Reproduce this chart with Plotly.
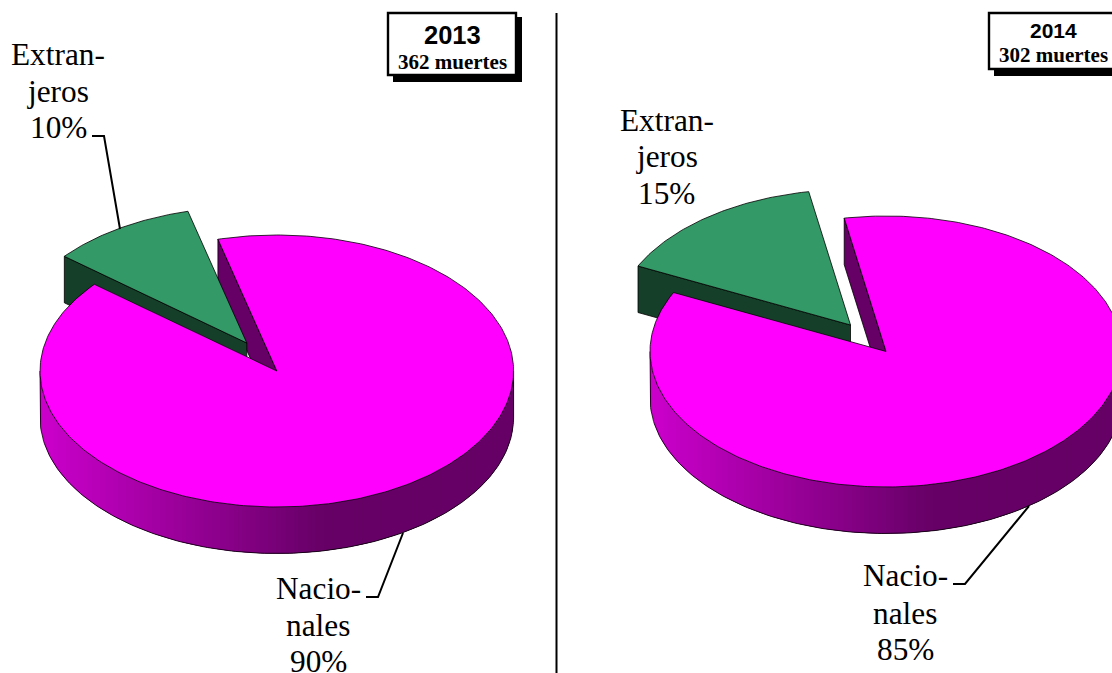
import numpy as np
import plotly.graph_objects as go

# Deaths by nationality, one panel per year
YEARS = ["2013", "2014"]
DEATHS = [362, 302]
CATEGORY_NATIONAL = ["Nacio-", "nales"]
CATEGORY_FOREIGN = ["Extran-", "jeros"]
NATIONAL_PCT = [90, 85]
FOREIGN_PCT = [10, 15]

WIDTH, HEIGHT = 1112, 673
MAGENTA = "#ff00ff"
PURPLE = "#660066"
GREEN = "#339966"
DARK_GREEN = "#163f29"
SERIF = "Liberation Serif"
SANS = "Liberation Sans"

# Drawing set-up of each panel
PANELS = [
    dict(cx=276.8, cy=371, rx=236.8, ry=136, depth=46.5, start=-14.4, shift=(-30, -28),
         foreign_x=58, foreign_base=[63, 100, 136],
         national_x=318, national_base=[597, 634, 670],
         foreign_leader=[(92, 136), (104, 136), (120, 229)],
         national_leader=[(366, 597), (378, 597), (403, 533)],
         box=(388, 13, 516, 75), shadow=(393, 17, 522, 82),
         title_x=452.5, title_base=42, title_size=25.5, sub_base=68),
    dict(cx=886, cy=351.5, rx=236, ry=135.5, depth=46.5, start=-10.2, shift=(-35.5, -26.5),
         foreign_x=666.5, foreign_base=[129, 165, 202],
         national_x=905, national_base=[584, 622, 658],
         foreign_leader=None,
         national_leader=[(953, 584), (965, 584), (1029, 506)],
         box=(989, 13, 1117, 69), shadow=(994, 17, 1123, 76),
         title_x=1053, title_base=36.5, title_size=21, sub_base=60.5),
]

fig = go.Figure()


def polygon(xs, ys, fill, line_color="#000000", line_width=0.8):
    fig.add_trace(go.Scatter(x=list(xs), y=list(ys), mode="lines", fill="toself",
                             fillcolor=fill, hoverinfo="skip", showlegend=False,
                             line=dict(color=line_color, width=line_width)))


def rim(p, angle):
    """Point on the top ellipse, angle in degrees clockwise from twelve o'clock."""
    a = np.radians(angle)
    return p["cx"] + p["rx"] * np.sin(a), p["cy"] - p["ry"] * np.cos(a)


def wall_color(p, x):
    rel = min((x - (p["cx"] - p["rx"])) / (2 * p["rx"]) / 0.6, 1.0)
    level = int(round(0xcc + (0x66 - 0xcc) * rel))
    return f"#{level:02x}00{level:02x}"


def draw_pie(p, national, foreign):
    cx, cy, depth = p["cx"], p["cy"], p["depth"]
    dx, dy = p["shift"]
    a0 = p["start"]
    a1 = a0 + national / (national + foreign) * 360

    # Cut face of the large slice, seen through the gap
    sx, sy = rim(p, a0)
    polygon([sx, sx, cx, cx, sx], [sy, sy + depth, cy + depth, cy, sy], PURPLE)

    # Cut face and top of the pulled-out slice
    ex, ey = rim(p, a1)
    polygon([ex + dx, ex + dx, cx + dx, cx + dx, ex + dx],
            [ey + dy, ey + dy + depth, cy + dy + depth, cy + dy, ey + dy], DARK_GREEN)
    arc = np.linspace(a1, a0 + 360, 60)
    gx, gy = rim(p, arc)
    polygon(np.r_[cx + dx, gx + dx, cx + dx], np.r_[cy + dy, gy + dy, cy + dy], GREEN)

    # Front wall of the large slice: strips painted left to right, each one
    # running on under the next so that no seams show between them
    edges = np.linspace(cx - p["rx"], cx + p["rx"], 111)
    angles = 180 - np.degrees(np.arcsin(np.clip((edges - cx) / p["rx"], -1, 1)))
    for i in range(len(edges) - 1):
        seg = np.linspace(angles[i], angles[min(i + 3, len(edges) - 1)], 8)
        wx, wy = rim(p, seg)
        color = wall_color(p, (edges[i] + edges[i + 1]) / 2)
        polygon(np.r_[wx, wx[::-1], wx[0]], np.r_[wy, wy[::-1] + depth, wy[0]], color,
                line_color=color, line_width=0)
    front = np.linspace(270, 90, 181)
    bx, by = rim(p, front)
    fig.add_trace(go.Scatter(x=np.r_[bx[0], bx, bx[-1]],
                             y=np.r_[by[0], by + depth, by[-1]],
                             mode="lines", hoverinfo="skip", showlegend=False,
                             line=dict(color="#000000", width=0.8)))

    # Top of the large slice
    arc = np.linspace(a0, a1, 361)
    tx, ty = rim(p, arc)
    polygon(np.r_[cx, tx, cx], np.r_[cy, ty, cy], MAGENTA)


def text_line(text, x, baseline, size, family=SERIF, bold=False):
    shown = f"<b>{text}</b>" if bold else text
    fig.add_annotation(x=x, y=baseline - 0.28 * size, text=shown, showarrow=False,
                       xanchor="center", yanchor="middle",
                       font=dict(family=family, size=size, color="#000000"))


def leader(points):
    path = "M " + " L ".join(f"{x},{y}" for x, y in points)
    fig.add_shape(type="path", path=path, line=dict(color="#000000", width=2),
                  layer="above")


for p, year, total, nat, fore in zip(PANELS, YEARS, DEATHS, NATIONAL_PCT, FOREIGN_PCT):
    draw_pie(p, nat, fore)

    for line, base in zip(CATEGORY_FOREIGN + [f"{fore}%"], p["foreign_base"]):
        text_line(line, p["foreign_x"], base, 31.3)
    for line, base in zip(CATEGORY_NATIONAL + [f"{nat}%"], p["national_base"]):
        text_line(line, p["national_x"], base, 31.3)

    if p["foreign_leader"]:
        leader(p["foreign_leader"])
    leader(p["national_leader"])

    # Year box with its drop shadow
    x0, y0, x1, y1 = p["shadow"]
    fig.add_shape(type="rect", x0=x0, y0=y0, x1=x1, y1=y1, fillcolor="#000000",
                  line=dict(width=0), layer="above")
    x0, y0, x1, y1 = p["box"]
    fig.add_shape(type="rect", x0=x0, y0=y0, x1=x1, y1=y1, fillcolor="#ffffff",
                  line=dict(color="#000000", width=2.4), layer="above")
    text_line(year, p["title_x"], p["title_base"], p["title_size"], SANS, True)
    text_line(f"{total} muertes", p["title_x"], p["sub_base"], 21, SERIF, True)

# Divider between the two years
fig.add_shape(type="line", x0=556.5, x1=556.5, y0=13, y1=673,
              line=dict(color="#000000", width=2), layer="above")

fig.update_layout(
    width=WIDTH, height=HEIGHT, autosize=False,
    margin=dict(l=0, r=0, t=0, b=0),
    paper_bgcolor="#ffffff", plot_bgcolor="#ffffff", showlegend=False,
    xaxis=dict(range=[0, WIDTH], visible=False, fixedrange=True),
    yaxis=dict(range=[HEIGHT, 0], visible=False, fixedrange=True),
)

fig.write_html("out.html", config=dict(displayModeBar=False))
